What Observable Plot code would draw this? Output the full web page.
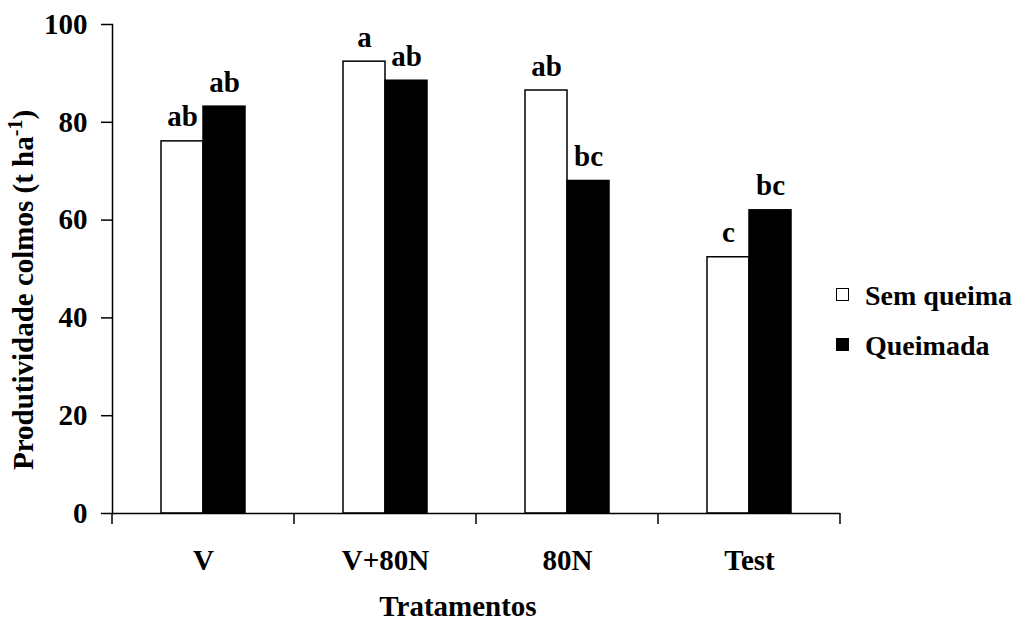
<!DOCTYPE html>
<html><head><meta charset="utf-8">
<script src="https://cdn.jsdelivr.net/npm/d3@7"></script>
<script src="https://cdn.jsdelivr.net/npm/@observablehq/plot@0.6"></script>
<style>
body{margin:0;background:#fff;}
#wrap{position:relative;width:1014px;height:623px;font-family:"Liberation Serif","Times New Roman",serif;font-weight:bold;color:#000;}
.lg{position:absolute;left:836px;font-size:28px;line-height:28px;white-space:nowrap;}
.sw{display:inline-block;width:11px;height:11px;border:1.5px solid #000;margin-right:16px;vertical-align:4.5px;}
</style></head><body><div id="wrap"></div>
<script>
const categories = ["V", "V+80N", "80N", "Test"];
const series = ["Sem queima", "Queimada"];
const semQueima = [76.1, 92.4, 86.5, 52.4];
const queimada = [83.2, 88.5, 68.0, 62.0];
const letrasSem = ["ab", "a", "ab", "c"];
const letrasQueimada = ["ab", "ab", "bc", "bc"];
const yTicks = [0, 20, 40, 60, 80, 100];
const xTitle = "Tratamentos";
const yTitleMain = "Produtividade colmos (t ha";
const yTitleSup = "-1";
const yTitleEnd = ")";

const data = categories.flatMap((c, i) => [
  {trat: c, serie: series[0], valor: semQueima[i], letra: letrasSem[i]},
  {trat: c, serie: series[1], valor: queimada[i], letra: letrasQueimada[i]}
]);

const chart = Plot.plot({
  width: 1014, height: 623,
  marginLeft: 112, marginRight: 174, marginTop: 24, marginBottom: 110,
  style: {fontFamily: '"Liberation Serif", "Times New Roman", serif', fontSize: "29px", fontWeight: "bold", color: "black", background: "white", overflow: "visible"},
  fx: {domain: categories, padding: 0, label: null},
  x: {domain: series, paddingInner: 0, paddingOuter: 1.14, axis: null},
  y: {domain: [0, 100], label: null},
  color: {domain: series, range: ["white", "black"]},
  marks: [
    Plot.barY(data, {fx: "trat", x: "serie", y: "valor", fill: "serie", stroke: "black", strokeWidth: 1.5, inset: 0}),
    Plot.ruleY([0], {strokeWidth: 1.5}),
    Plot.text(data, {fx: "trat", x: "serie", y: "valor", text: "letra", dy: -15, lineAnchor: "bottom"}),
    Plot.axisY({ticks: yTicks, tickSize: 11, tickPadding: 14, strokeWidth: 1.5, label: null, tickFormat: d => d}),
    Plot.frame({anchor: "left", facetAnchor: "left", strokeWidth: 1.5}),
    Plot.axisFx({anchor: "bottom", tickSize: 0, tickPadding: 36, label: null})
  ]
});

const wrap = document.getElementById("wrap");
wrap.appendChild(chart);

// boundary ticks of the category axis, from the library's scales
const fx = chart.scale("fx");
const ys = chart.scale("y");
const y0 = ys.apply(0);
const svg = d3.select(chart);
const bounds = categories.map(c => fx.apply(c)).concat([fx.apply(categories[categories.length - 1]) + fx.bandwidth]);
svg.append("g").selectAll("line").data(bounds).join("line")
  .attr("x1", d => d).attr("x2", d => d)
  .attr("y1", y0).attr("y2", y0 + 11)
  .attr("stroke", "black").attr("stroke-width", 1.5);

// axis titles
svg.append("text").attr("x", 458).attr("y", 616).attr("text-anchor", "middle").text(xTitle);
const yt = svg.append("text").attr("transform", "translate(33,290) rotate(-90)").attr("text-anchor", "middle");
yt.append("tspan").text(yTitleMain);
yt.append("tspan").attr("dy", -11).attr("font-size", "20px").text(yTitleSup);
yt.append("tspan").attr("dy", 11).text(yTitleEnd);

// legend
const tops = [282, 332];
series.forEach((s, i) => {
  const row = document.createElement("div");
  row.className = "lg";
  row.style.top = tops[i] + "px";
  const sw = document.createElement("span");
  sw.className = "sw";
  sw.style.background = chart.scale("color").apply(s);
  row.appendChild(sw);
  row.appendChild(document.createTextNode(s));
  wrap.appendChild(row);
});
</script>
</body></html>
